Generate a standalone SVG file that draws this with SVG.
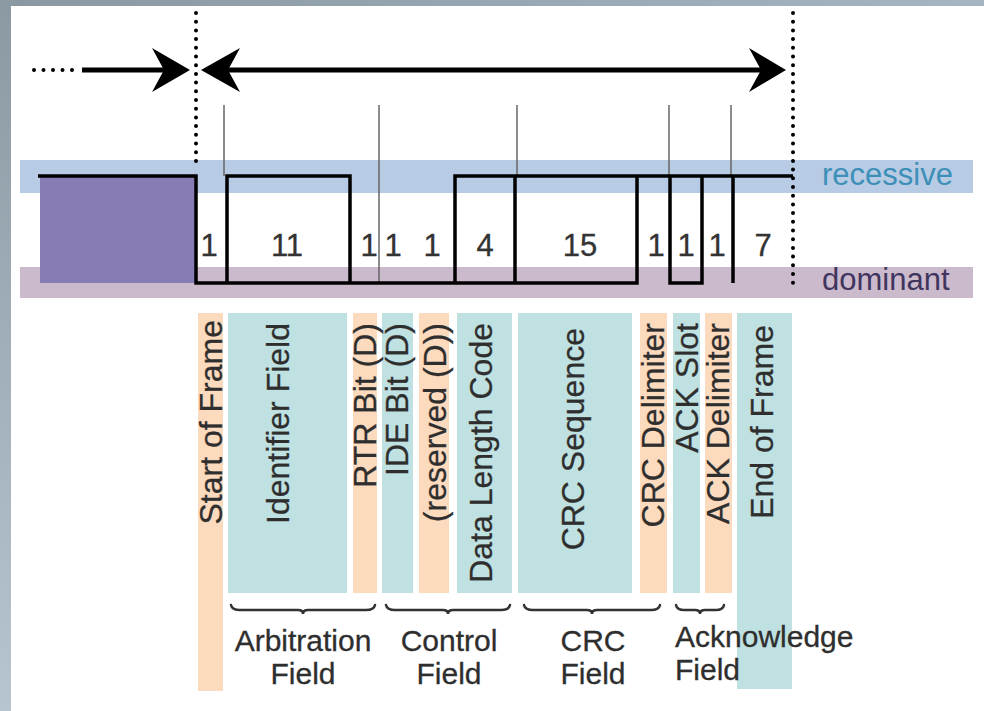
<svg xmlns="http://www.w3.org/2000/svg" width="984" height="711" viewBox="0 0 984 711">
<defs>
<linearGradient id="gTop" x1="0" y1="0" x2="1" y2="0"><stop offset="0" stop-color="#8a98a2"/><stop offset="1" stop-color="#a4b6c3"/></linearGradient>
<linearGradient id="gLeft" x1="0" y1="0" x2="0" y2="1"><stop offset="0" stop-color="#8b99a3"/><stop offset="1" stop-color="#b6c5d0"/></linearGradient>
<style>
.num{font-family:"Liberation Sans",Arial,sans-serif;font-size:31px;fill:#333;text-anchor:middle;stroke:#333;stroke-width:0.3}
.lbl{font-family:"Liberation Sans",Arial,sans-serif;font-size:32px;fill:#2e2e2e;text-anchor:end;stroke:#2e2e2e;stroke-width:0.3}
.fld{font-family:"Liberation Sans",Arial,sans-serif;font-size:30px;fill:#2e2e2e;text-anchor:middle;stroke:#2e2e2e;stroke-width:0.3}
.fla{font-family:"Liberation Sans",Arial,sans-serif;font-size:30px;fill:#2e2e2e;stroke:#2e2e2e;stroke-width:0.3}
.or{fill:#fcdabd}
.tl{fill:#c0e1e1}
.sig{fill:none;stroke:#000;stroke-width:3.5;stroke-linejoin:miter}
.tick{stroke:#666;stroke-width:1.5}
.dots{stroke:#000;stroke-width:4;stroke-linecap:round;stroke-dasharray:0 8.7}
.brace{fill:none;stroke:#333;stroke-width:2.5;stroke-linecap:round}
</style>
</defs>
<rect width="984" height="711" fill="#ffffff"/>
<rect x="0" y="0" width="984" height="6" fill="url(#gTop)"/>
<rect x="0" y="0" width="11" height="711" fill="url(#gLeft)"/>

<!-- level bands -->
<rect x="20" y="160" width="953" height="33" fill="#b7cbe4"/>
<rect x="20" y="267" width="953" height="31" fill="#cbb9cc"/>
<rect x="40" y="177" width="155" height="106" fill="#877cb4"/>
<text x="822" y="185" font-family="Liberation Sans, Arial, sans-serif" font-size="31" fill="#3d8fb8">recessive</text>
<text x="822" y="290" font-family="Liberation Sans, Arial, sans-serif" font-size="31" fill="#3f355f">dominant</text>

<!-- label bars -->
<g id="bars">
<rect class="or" x="198" y="313" width="25" height="378"/>
<rect class="tl" x="228" y="313" width="119" height="280"/>
<rect class="or" x="353" y="313" width="24" height="280"/>
<rect class="tl" x="382" y="313" width="31" height="280"/>
<rect class="or" x="419" y="313" width="30" height="280"/>
<rect class="tl" x="457" y="313" width="55" height="280"/>
<rect class="tl" x="518" y="313" width="114" height="280"/>
<rect class="or" x="640" y="313" width="27" height="280"/>
<rect class="tl" x="673" y="313" width="27" height="280"/>
<rect class="or" x="705" y="313" width="27" height="280"/>
<rect class="tl" x="737" y="313" width="55" height="376"/>
</g>

<!-- connectors: arrows, dotted boundaries, ticks, signal -->
<g id="connectors">
<line class="dots" x1="196" y1="13" x2="196" y2="166"/>
<line class="dots" x1="793" y1="13" x2="793" y2="285"/>
<line x1="34" y1="70" x2="76" y2="70" stroke="#000" stroke-width="4" stroke-linecap="round" stroke-dasharray="0 9.5"/>
<line x1="82" y1="70" x2="168" y2="70" stroke="#000" stroke-width="5"/>
<path d="M190,70 L152,48 L164,70 L152,92 Z" fill="#000"/>
<line x1="225" y1="70" x2="765" y2="70" stroke="#000" stroke-width="5"/>
<path d="M201,70 L240,48 L228,70 L240,92 Z" fill="#000"/>
<path d="M786,70 L749,48 L761,70 L749,92 Z" fill="#000"/>
<line class="tick" x1="224" y1="105" x2="224" y2="176"/>
<line class="tick" x1="379" y1="105" x2="379" y2="283"/>
<line class="tick" x1="517" y1="105" x2="517" y2="176"/>
<line class="tick" x1="669" y1="105" x2="669" y2="176"/>
<line class="tick" x1="731" y1="105" x2="731" y2="176"/>
<path class="sig" d="M38,176 H196 V283 H637 V176"/>
<path class="sig" d="M227,283 V176 H350 V283"/>
<path class="sig" d="M455,283 V176 H793"/>
<path class="sig" d="M515,176 V283"/>
<path class="sig" d="M670,176 V283 H702 V176"/>
<path class="sig" d="M733,176 V283"/>
<path class="brace" d="M231,605 Q232,610 240,610 H298 Q303,610 303,614 Q303,610 308,610 H366 Q374,610 375,605"/>
<path class="brace" d="M386,605 Q387,610 395,610 H443 Q448,610 448,614 Q448,610 453,610 H501 Q509,610 510,605"/>
<path class="brace" d="M524,605 Q525,610 533,610 H587 Q592,610 592,614 Q592,610 597,610 H651 Q659,610 660,605"/>
<path class="brace" d="M676,605 Q677,610 684,610 H695 Q700,610 700,614 Q700,610 705,610 H716 Q723,610 724,605"/>
</g>

<!-- bit counts -->
<g id="counts">
<text class="num" x="209" y="256">1</text>
<text class="num" x="287" y="256">11</text>
<text class="num" x="369" y="256">1</text>
<text class="num" x="393" y="256">1</text>
<text class="num" x="432" y="256">1</text>
<text class="num" x="485" y="256">4</text>
<text class="num" x="580" y="256">15</text>
<text class="num" x="656" y="256">1</text>
<text class="num" x="686" y="256">1</text>
<text class="num" x="717" y="256">1</text>
<text class="num" x="763" y="256">7</text>
</g>

<!-- vertical labels -->
<g id="sof"><text class="lbl" transform="translate(211,320) rotate(-90)" y="11">Start of Frame</text></g>
<g id="ident"><text class="lbl" transform="translate(278,323) rotate(-90)" y="11">Identifier Field</text></g>
<g id="rtr"><text class="lbl" transform="translate(365,323) rotate(-90)" y="11">RTR Bit (D)</text></g>
<g id="ide"><text class="lbl" transform="translate(397,323) rotate(-90)" y="11">IDE Bit (D)</text></g>
<g id="res"><text class="lbl" transform="translate(435,323) rotate(-90)" y="11">(reserved (D))</text></g>
<g id="dlc"><text class="lbl" transform="translate(481,323) rotate(-90)" y="11">Data Length Code</text></g>
<g id="crcseq"><text class="lbl" transform="translate(573,328) rotate(-90)" y="11">CRC Sequence</text></g>
<g id="crcdel"><text class="lbl" transform="translate(653,323) rotate(-90)" y="11">CRC Delimiter</text></g>
<g id="ackslot"><text class="lbl" transform="translate(687,323) rotate(-90)" y="11">ACK Slot</text></g>
<g id="ackdel"><text class="lbl" transform="translate(718,323) rotate(-90)" y="11">ACK Delimiter</text></g>
<g id="eof"><text class="lbl" transform="translate(762,325) rotate(-90)" y="11">End of Frame</text></g>

<!-- field labels -->
<g id="arb"><text class="fld" x="303" y="651">Arbitration</text><text class="fld" x="303" y="684">Field</text></g>
<g id="ctrl"><text class="fld" x="449" y="651">Control</text><text class="fld" x="449" y="684">Field</text></g>
<g id="crc"><text class="fld" x="593" y="651">CRC</text><text class="fld" x="593" y="684">Field</text></g>
<g id="ack"><text class="fla" x="675" y="647">Acknowledge</text><text class="fla" x="675" y="680">Field</text></g>
</svg>
